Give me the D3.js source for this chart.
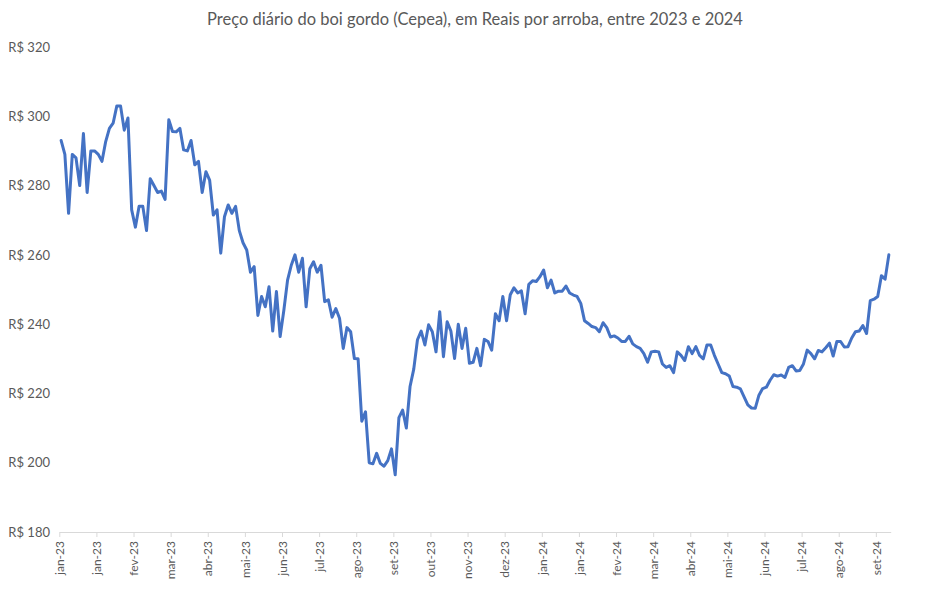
<!DOCTYPE html>
<html>
<head>
<meta charset="utf-8">
<script src="https://cdn.jsdelivr.net/npm/d3@7"></script>
<style>
  html, body { margin: 0; padding: 0; background: #ffffff; }
  svg { display: block; }
</style>
</head>
<body>
<div id="chart"></div>
<script>
const chartTitle = "Preço diário do boi gordo (Cepea), em Reais por arroba, entre 2023 e 2024";
const tickLabels = ["jan-23","jan-23","fev-23","mar-23","abr-23","mai-23","jun-23","jul-23","ago-23","set-23","out-23","nov-23","dez-23","jan-24","jan-24","fev-24","mar-24","abr-24","mai-24","jun-24","jul-24","ago-24","set-24"];
const yTicks = [180, 200, 220, 240, 260, 280, 300, 320];
const pointsPerTick = 10;
const prices = [
  293, 289, 272, 289, 288, 280, 295, 278, 290, 290,
  289, 287, 292.7, 296.5, 298, 303, 303, 296, 299.5, 273,
  268, 274, 274, 267, 282, 280, 278, 278.4, 276, 299,
  295.6, 295.5, 296.5, 290.3, 290, 293, 286, 287, 278, 284,
  281.6, 271.5, 273, 260.5, 271, 274.4, 272, 274, 267, 263.5,
  261.4, 255, 256.6, 242.5, 248, 245, 250.8, 238, 249.4, 236.4,
  244, 252.7, 257, 260, 255, 259, 245, 256, 258, 255,
  257, 246.5, 247, 242, 244.5, 241.7, 233, 239, 237.8, 230.1,
  230, 212, 214.7, 200, 199.7, 202.7, 199.8, 199, 200.6, 204,
  196.5, 213, 215.2, 210, 222, 227, 235.5, 238, 234, 239.8,
  237.8, 232, 243.6, 230.6, 240.7, 238, 230.1, 240, 233, 238.8,
  228.7, 229, 233, 228, 235.6, 235, 232.5, 243, 241, 248,
  241, 248.5, 250.5, 249, 249.6, 243, 251.5, 252.5, 252.3, 253.7,
  255.6, 250.5, 252.7, 249, 249.5, 249.5, 251, 249, 248.4, 248,
  246, 241, 240.2, 239.3, 239, 237.8, 240.4, 239, 236.3, 236.6,
  236, 235, 235, 236.5, 234.3, 233.5, 233, 231.5, 229, 232,
  232.2, 232, 228.5, 227.5, 228, 226, 232, 231, 229.5, 233.5,
  231.5, 233.5, 231, 230, 234, 234, 231, 228.5, 226, 225.7,
  225, 222, 221.8, 221.3, 219, 216.7, 215.8, 215.7, 219.5, 221.4,
  221.8, 223.8, 225.4, 225, 225.3, 224.6, 227.5, 228, 226.5, 226.6,
  228.5, 232.5, 231.5, 230, 232.4, 232, 233.2, 234.5, 230.8, 235,
  235, 233.4, 233.5, 236, 237.8, 238, 239.6, 237.3, 246.8, 247.2,
  248, 254, 253, 260
];

const W = 948, H = 590;
const plotLeft = 59.3, plotRight = 890.7, plotTop = 47, plotBottom = 532;
const fontFam = "Lato, 'Open Sans', sans-serif";
const textColor = "#595959";

const svg = d3.select("#chart").append("svg").attr("width", W).attr("height", H);

const x = d3.scaleLinear().domain([0, prices.length]).range([plotLeft, plotRight]);
const y = d3.scaleLinear().domain([180, 320]).range([plotBottom, plotTop]);

svg.append("text")
  .attr("x", 475).attr("y", 25)
  .attr("text-anchor", "middle")
  .style("font-family", fontFam).style("font-size", "16.5px").style("fill", textColor)
  .text(chartTitle);

// y axis labels
const yAxis = d3.axisLeft(y).tickValues(yTicks).tickSize(0).tickPadding(0)
  .tickFormat(d => "R$ " + d);
const gy = svg.append("g").attr("transform", "translate(50,0)").call(yAxis);
gy.select(".domain").remove();
gy.selectAll("text").style("font-family", fontFam).style("font-size", "13px").style("fill", textColor);

// x axis
const tickPos = tickLabels.map((_, k) => k * pointsPerTick);
const xAxis = d3.axisBottom(x).tickValues(tickPos).tickSize(5).tickSizeOuter(0)
  .tickFormat((d, i) => tickLabels[i]);
const gx = svg.append("g").attr("transform", `translate(0,${plotBottom})`).call(xAxis);
gx.select(".domain").attr("stroke", "#d9d9d9").attr("stroke-width", 1);
gx.selectAll(".tick line").attr("stroke", "#d9d9d9");
gx.selectAll("text")
  .attr("transform", "rotate(-90)")
  .attr("x", -9).attr("y", 0).attr("dy", "0.35em")
  .style("text-anchor", "end")
  .style("font-family", fontFam).style("font-size", "12px").style("fill", textColor);

// line
const line = d3.line()
  .x((d, i) => x(i + 0.5))
  .y(d => y(d));
svg.append("path")
  .datum(prices)
  .attr("fill", "none")
  .attr("stroke", "#4472C4")
  .attr("stroke-width", 3)
  .attr("stroke-linejoin", "round")
  .attr("stroke-linecap", "round")
  .attr("d", line);
</script>
</body>
</html>
